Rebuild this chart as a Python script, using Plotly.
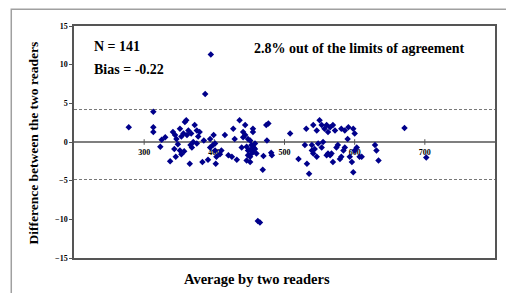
import plotly.graph_objects as go

# ---- data ----
avg = [278, 313, 313, 313, 323, 325, 330, 337, 341, 344, 345, 346, 348, 351, 351, 353, 353, 356, 357, 358,
       360, 361, 363, 365, 366, 367, 368, 370, 372, 375, 375, 377, 379, 383, 387, 391, 394, 394, 395, 398,
       399, 401, 401, 402, 403, 408, 410, 420, 425, 427, 429, 432, 436, 439, 441, 441, 444, 444, 446, 446,
       448, 448, 448, 451, 451, 451, 451, 453, 453, 455, 455, 455, 456, 458, 458, 460, 462, 465, 469, 470,
       474, 475, 477, 481, 482, 508, 520, 529, 531, 532, 535, 539, 539, 541, 541, 543, 546, 546, 548, 550,
       553, 553, 555, 557, 560, 560, 562, 562, 565, 565, 567, 569, 569, 572, 574, 576, 579, 581, 581, 584,
       586, 586, 591, 593, 596, 598, 598, 600, 600, 603, 607, 610, 629, 631, 634, 671, 702, 343, 385, 415, 590]
diff = [1.9, 3.9, 1.9, 1.3, -0.6, 0.3, 0.6, -2.5, 1.3, 0.9, -1.9, 0.4, -0.3, 1.7, -1.1, 0.7, -1.6, 1.1, -1.2, 2.6,
        2.8, 0.9, 1.5, -2.8, -0.4, 1.1, -0.7, 0.0, 2.2, 1.5, -0.2, 0.7, 1.3, -2.6, 6.2, -2.3, 0.4, -0.7, 11.3, -0.4,
        0.9, -1.1, -0.2, -2.8, -1.9, -1.6, -1.1, -1.7, -1.9, 1.7, 0.4, -2.3, 2.8, -0.7, 1.3, 0.6, 2.2, 0.9, -2.4, -0.6,
        0.4, -1.7, -1.1, 0.2, -1.0, -2.6, -1.9, -1.5, -0.4, 1.3, -1.3, 1.7, -0.7, -0.9, -0.2, -1.5, -10.2, -10.4, -3.6, -1.8,
        2.2, 0.2, 2.4, -1.4, -1.7, 1.1, -2.2, -0.4, 1.7, -2.8, -4.1, -1.1, -0.4, -1.5, 2.2, -0.9, 1.5, -1.9, -0.2, 2.8,
        2.2, -0.7, 0.0, 1.7, 2.2, -1.7, 1.3, -1.5, 1.9, -1.7, -1.5, 2.2, -2.6, 1.5, -0.7, -0.4, -2.2, 1.7, -1.9, -1.1,
        1.5, -0.7, 1.9, -1.9, -2.6, 1.7, -3.9, 1.1, -1.1, -0.7, -1.9, -1.9, -0.4, -1.1, -2.4, 1.8, -2.0, -0.9, 0.2, 0.9, 0.4]
x_ticks = [300, 400, 500, 600, 700]
x_tick_labels = ["300", "400", "500", "600", "700"]
y_ticks = [-15, -10, -5, 0, 5, 10, 15]
upper_loa = 4.2
lower_loa = -4.85
axis_cross = 0.0
x_range = [200, 800]
y_range = [-15, 15]

serif = "Liberation Serif, Times New Roman, serif"

fig = go.Figure()

# x tick labels (drawn below the points, at the zero-crossing axis)
fig.add_trace(go.Scatter(
    x=x_ticks, y=[-1.45] * len(x_ticks), mode="text", text=x_tick_labels,
    textfont=dict(family=serif, size=8, color="black", weight="bold"),
    hoverinfo="skip", showlegend=False))
# tick marks on the zero line
fig.add_trace(go.Scatter(
    x=x_ticks, y=[axis_cross] * len(x_ticks), mode="markers",
    marker=dict(symbol="line-ns", size=4, line=dict(color="#555555", width=1)),
    hoverinfo="skip", showlegend=False))

fig.add_trace(go.Scatter(
    x=avg, y=diff, mode="markers",
    marker=dict(symbol="diamond", size=5, color="#00008B"),
    showlegend=False))

shapes = [
    dict(type="line", xref="x", yref="y", x0=x_range[0], x1=x_range[1], y0=axis_cross, y1=axis_cross,
         line=dict(color="#555555", width=1.5), layer="below"),
    dict(type="line", xref="x", yref="y", x0=x_range[0], x1=x_range[1], y0=upper_loa, y1=upper_loa,
         line=dict(color="#777777", width=1, dash="3px,2px"), layer="below"),
    dict(type="line", xref="x", yref="y", x0=x_range[0], x1=x_range[1], y0=lower_loa, y1=lower_loa,
         line=dict(color="#777777", width=1, dash="3px,2px"), layer="below"),
    # outer chart border
    dict(type="rect", xref="paper", yref="paper", x0=-0.149, x1=1.03, y0=-0.3, y1=1.072,
         line=dict(color="#A0A0A0", width=1.5), layer="below"),
]

annotations = [
    dict(text="N = 141", xref="paper", yref="paper", x=(92 - 74) / 423, y=(257.7 - 46) / 232,
         xanchor="left", yanchor="middle", showarrow=False,
         font=dict(family=serif, size=14, color="black", weight="bold")),
    dict(text="Bias = -0.22", xref="paper", yref="paper", x=(92 - 74) / 423, y=(257.7 - 69) / 232,
         xanchor="left", yanchor="middle", showarrow=False,
         font=dict(family=serif, size=14, color="black", weight="bold")),
    dict(text="2.8% out of the limits of agreement", xref="paper", yref="paper",
         x=(253 - 74) / 423, y=(257.7 - 48) / 232,
         xanchor="left", yanchor="middle", showarrow=False,
         font=dict(family=serif, size=14, color="black", weight="bold")),
    dict(text="Difference between the two readers", xref="paper", yref="paper",
         x=(33 - 74) / 423, y=(257.7 - 143) / 232, textangle=-90,
         xanchor="center", yanchor="middle", showarrow=False,
         font=dict(family=serif, size=13.5, color="black", weight="bold")),
    dict(text="Average by two readers", xref="paper", yref="paper",
         x=(258 - 74) / 423, y=(257.7 - 279) / 232,
         xanchor="center", yanchor="middle", showarrow=False,
         font=dict(family=serif, size=14.5, color="black", weight="bold")),
]

fig.update_layout(
    width=506, height=293,
    margin=dict(l=74, r=9, t=26, b=35),
    paper_bgcolor="white", plot_bgcolor="white",
    shapes=shapes, annotations=annotations,
    xaxis=dict(range=x_range, showgrid=False, zeroline=False, showticklabels=False,
               showline=True, mirror=True, linecolor="#555555", linewidth=1.5, ticks=""),
    yaxis=dict(range=y_range, tickvals=y_ticks, showgrid=False, zeroline=False,
               showline=True, mirror=True, linecolor="#555555", linewidth=1.5,
               ticks="outside", ticklen=3, tickcolor="#555555",
               tickfont=dict(family=serif, size=8, color="black", weight="bold")),
)

fig.write_html("out.html", config={"displayModeBar": False},
               post_script="document.body.style.margin='0';document.body.style.overflow='hidden';")
